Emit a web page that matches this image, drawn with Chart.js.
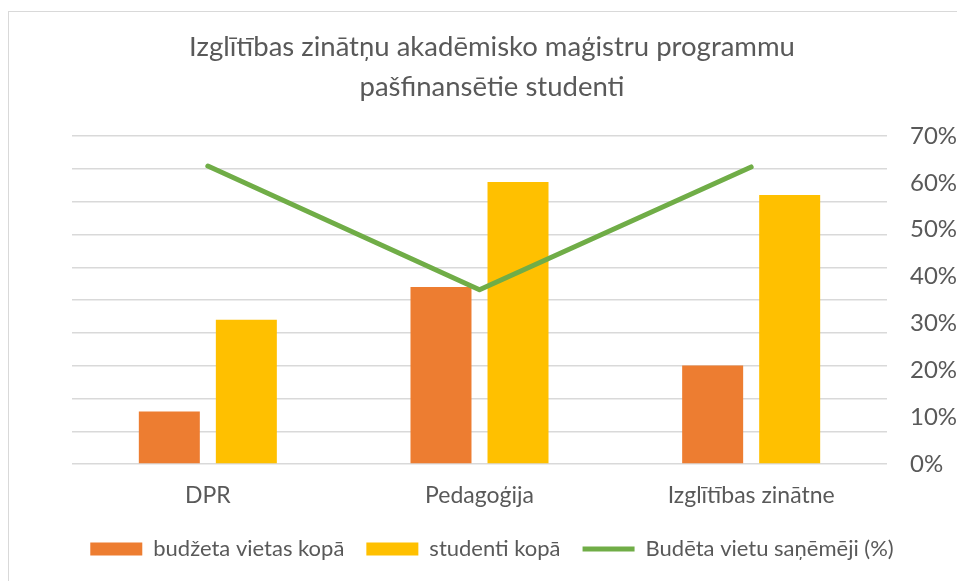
<!DOCTYPE html>
<html>
<head>
<meta charset="utf-8">
<script src="https://cdn.jsdelivr.net/npm/chart.js@4"></script>
<style>
  body { margin: 0; background: #fff; }
  #wrap { position: relative; width: 957px; height: 581px; overflow: hidden; }
  #frame { position: absolute; left: 8px; top: 11px; width: 960px; height: 600px;
           border-left: 1.5px solid #d9d9d9; border-top: 1.5px solid #d9d9d9; }
  canvas { position: absolute; left: 0; top: 0; }
</style>
</head>
<body>
<div id="wrap">
  <div id="frame"></div>
  <canvas id="chart" width="957" height="581"></canvas>
</div>
<script>
const categories = ["DPR", "Pedagoģija", "Izglītības zinātne"];
const budgetPlaces = [8, 27, 15];
const studentsTotal = [22, 43, 41];
const budgetShare = [63.6, 37.2, 63.4];

const grey = "#595959";
const font = "Lato, 'Open Sans', sans-serif";

// keep the legend box at a fixed height so the plot area keeps its size
const legendHeight = {
    id: "legendHeight",
    beforeLayout(chart) {
        const lg = chart.legend;
        if (lg && !lg._fixed) {
            const fit = lg.fit;
            lg.fit = function () {
                fit.call(this);
                this.height = 44;
            };
            lg._fixed = true;
        }
    },
};

const ctx = document.getElementById("chart").getContext("2d");
new Chart(ctx, {
    data: {
        labels: categories,
        datasets: [
            {
                type: "bar",
                label: "budžeta vietas kopā",
                data: budgetPlaces,
                backgroundColor: "#ed7d31",
                yAxisID: "y",
                order: 2,
                pointStyle: "rect",
                categoryPercentage: 0.567,
                barPercentage: 0.792,
            },
            {
                type: "bar",
                label: "studenti kopā",
                data: studentsTotal,
                backgroundColor: "#ffc000",
                yAxisID: "y",
                order: 2,
                pointStyle: "rect",
                categoryPercentage: 0.567,
                barPercentage: 0.792,
            },
            {
                type: "line",
                label: "Budēta vietu saņēmēji (%)",
                data: budgetShare,
                borderColor: "#70ad47",
                backgroundColor: "#70ad47",
                borderWidth: 5,
                borderCapStyle: "round",
                borderJoinStyle: "round",
                tension: 0,
                pointRadius: 0,
                pointHoverRadius: 0,
                pointBorderWidth: 5,
                pointStyle: "line",
                yAxisID: "y1",
                order: 1,
            },
        ],
    },
    options: {
        responsive: false,
        animation: false,
        layout: { padding: { left: 27, right: 0, top: 0, bottom: 21 } },
        plugins: {
            title: {
                display: true,
                text: ["Izglītības zinātņu akadēmisko maģistru programmu", "pašfinansētie studenti"],
                color: grey,
                font: { family: font, size: 27.5, weight: "normal", lineHeight: 40 / 27.5 },
                padding: { top: 27, bottom: 29 },
            },
            legend: {
                position: "bottom",
                labels: {
                    usePointStyle: true,
                    pointStyleWidth: 52,
                    boxHeight: 13,
                    padding: 22,
                    color: grey,
                    font: { family: font, size: 22 },
                    sort: (a, b) => a.datasetIndex - b.datasetIndex,
                },
            },
            tooltip: { enabled: false },
        },
        scales: {
            x: {
                grid: { display: false, drawTicks: false },
                border: { display: false },
                ticks: { color: grey, padding: 18, font: { family: font, size: 23 } },
                afterFit: (scale) => { scale.height = 52; },
            },
            y: {
                position: "left",
                min: 0,
                max: 50,
                ticks: { display: false, stepSize: 5 },
                grid: { color: "#d9d9d9", lineWidth: 1.4, drawTicks: false },
                border: { display: false },
                afterFit: (scale) => { scale.width = 45; },
            },
            y1: {
                position: "right",
                min: 0,
                max: 70,
                ticks: {
                    stepSize: 10,
                    padding: 23,
                    color: grey,
                    font: { family: font, size: 24 },
                    callback: (v) => v + "%",
                },
                grid: { display: false, drawTicks: false },
                border: { display: false },
                afterFit: (scale) => { scale.width = 70; },
            },
        },
    },
    plugins: [legendHeight],
});
</script>
</body>
</html>
